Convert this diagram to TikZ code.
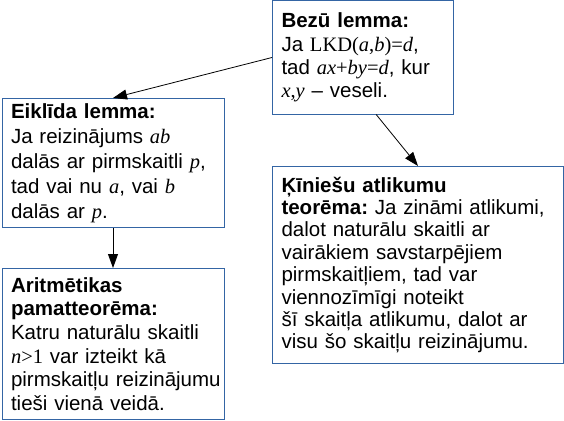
\documentclass[tikz,border=0pt]{standalone}
\usepackage{fontspec}
\setmainfont{Liberation Sans}
\newfontfamily\formulafont{Liberation Serif}
\newcommand{\mv}[1]{{\formulafont\itshape #1}}
\newcommand{\mr}[1]{{\formulafont #1}}
\usetikzlibrary{arrows.meta, positioning}
\definecolor{boxblue}{HTML}{3465A4}
\frenchspacing

\begin{document}
\begin{tikzpicture}[
    x=1pt, y=-1pt,
    lemma/.style={rectangle, draw=boxblue, line width=1pt, fill=white, anchor=north west, align=left, inner xsep=9pt, inner ysep=0pt, font=\fontsize{20.5}{23.5}\selectfont},
    arrow/.style={draw, -{Triangle[length=14pt, width=10pt]}, line width=0.8pt}
]
\useasboundingbox (0,0) rectangle (564,420);

% Lemmas and theorems
\node[lemma, minimum width=181pt, minimum height=113pt, text width=163pt, font=\fontsize{20.5}{23.3}\selectfont] (bezu) at (272,0.5) {\textbf{Bezū lemma:}\\Ja \mr{LKD(}\mv{a}\mr{,}\mv{b}\mr{)=}\mv{d},\\tad \mv{ax}\mr{+}\mv{by}\mr{=}\mv{d}, kur\\\mv{x}\mr{,}\mv{y} -- veseli.};
\node[lemma, minimum width=222pt, minimum height=129pt, text width=204pt, font=\fontsize{20.5}{25}\selectfont] (eiklida) at (1.5,98) {\textbf{Eiklīda lemma:}\\Ja reizinājums \mv{ab}\\dalās ar pirmskaitli \mv{p},\\tad vai nu \mv{a}, vai \mv{b}\\dalās ar \mv{p}.};
\node[lemma, below=40pt of eiklida.south west, anchor=north west, minimum width=222pt, minimum height=151pt, text width=204pt, font=\fontsize{20.5}{23.7}\selectfont] (aritm) {\textbf{Aritmētikas}\\\textbf{pamatteorēma:}\\Katru naturālu skaitli\\\mv{n}\mr{>1} var izteikt kā\\\mbox{pirmskaitļu reizinājumu}\\tieši vienā veidā.};
\node[lemma, below=51.5pt of bezu.south west, anchor=north west, minimum width=291pt, minimum height=197pt, text width=273pt, font=\fontsize{20.5}{22.4}\selectfont] (kin) {\textbf{Ķīniešu atlikumu}\\\textbf{teorēma:} Ja zināmi atlikumi,\\dalot naturālu skaitli ar\\vairākiem savstarpējiem\\pirmskaitļiem, tad var\\viennozīmīgi noteikt\\šī skaitļa atlikumu, dalot ar\\visu šo skaitļu reizinājumu.};

% Connectors
\draw[arrow] (bezu.west) -- (eiklida.north);
\draw[arrow] (bezu.-77) -- (kin.north);
\draw[arrow] (eiklida.south) -- (aritm.north);

\end{tikzpicture}
\end{document}
